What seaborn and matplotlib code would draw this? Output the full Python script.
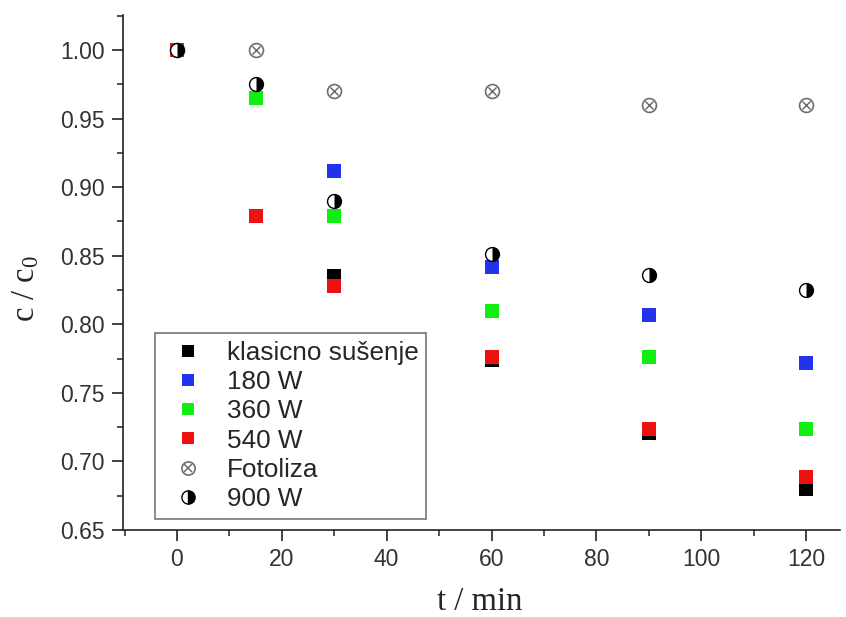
import numpy as np
import pandas as pd
import matplotlib
matplotlib.use("Agg")
import matplotlib.pyplot as plt
from matplotlib.path import Path
from matplotlib.lines import Line2D
from matplotlib.ticker import MultipleLocator, FormatStrFormatter
import seaborn as sns

# ---- data ----
t = [0, 15, 30, 60, 90, 120]
klasicno = [1.00, np.nan, 0.835, 0.774, 0.721, 0.680]
w180 = [1.00, np.nan, 0.912, 0.842, 0.807, 0.772]
w360 = [1.00, 0.965, 0.879, 0.810, 0.776, 0.724]
w540 = [1.00, 0.879, 0.828, 0.776, 0.724, 0.689]
fotoliza = [1.00, 1.00, 0.970, 0.970, 0.960, 0.960]
w900 = [1.00, 0.975, 0.890, 0.851, 0.836, 0.825]

labels = ["klasicno sušenje", "180 W", "360 W", "540 W", "Fotoliza", "900 W"]
sq_colors = ["#000000", "#2233ee", "#11ee11", "#ee1111"]
gray = "#6e6e6e"

sns.set_style("ticks")
plt.rcParams["font.family"] = ["Liberation Sans", "DejaVu Sans"]
plt.rcParams["mathtext.fontset"] = "custom"
plt.rcParams["mathtext.rm"] = "Liberation Serif"
plt.rcParams["mathtext.it"] = "Liberation Serif"

fig = plt.figure(figsize=(8.46, 6.17), dpi=100)
ax = fig.add_axes([0.1454, 0.141, 0.8476, 0.8347])

SQ = 90
CI = 100

def dfm(vals):
    d = pd.DataFrame({"t": t, "v": vals})
    return d.dropna()

# squares
for vals, col in zip([klasicno, w180, w360, w540], sq_colors):
    d = dfm(vals)
    sns.scatterplot(data=d, x="t", y="v", ax=ax, marker="s", s=SQ,
                    color=col, linewidth=0, zorder=3)

# Fotoliza: circle with cross
d = dfm(fotoliza)
sns.scatterplot(data=d, x="t", y="v", ax=ax, marker="o", s=CI,
                facecolor="white", edgecolor=gray, linewidth=1.2, zorder=4)
sns.scatterplot(data=d, x="t", y="v", ax=ax, marker="x", s=34,
                color=gray, linewidth=1.1, zorder=5)

# 900 W: half-filled circle
half = Path.wedge(-90, 90)
d = dfm(w900)
sns.scatterplot(data=d, x="t", y="v", ax=ax, marker="o", s=CI,
                facecolor="white", edgecolor="black", linewidth=1.0, zorder=6)
sns.scatterplot(data=d, x="t", y="v", ax=ax, marker=half, s=CI,
                color="black", linewidth=0, zorder=7)

ax.set_xlim(-10.3, 126.5)
ax.set_ylim(0.65, 1.0255)
ax.xaxis.set_major_locator(MultipleLocator(20))
ax.xaxis.set_minor_locator(MultipleLocator(10))
ax.yaxis.set_major_locator(MultipleLocator(0.05))
ax.yaxis.set_minor_locator(MultipleLocator(0.025))
ax.yaxis.set_major_formatter(FormatStrFormatter("%.2f"))

for s in ["top", "right"]:
    ax.spines[s].set_visible(False)
for s in ["left", "bottom"]:
    ax.spines[s].set_linewidth(1.2)
    ax.spines[s].set_color("#222222")
ax.tick_params(which="major", direction="out", length=8, width=1.2, pad=5,
               labelsize=16.5, colors="#222222", labelcolor="#333333")
ax.tick_params(which="minor", direction="out", length=4.5, width=1.1, colors="#222222")

ax.set_xlabel("t / min", family=["Liberation Serif"], fontsize=23.5)
ax.set_ylabel("c / c$\\mathregular{_0}$", family=["Liberation Serif"], fontsize=23.5)
ax.xaxis.set_label_coords(0.498, -0.11)
ax.yaxis.set_label_coords(-0.114, 0.47)

handles = []
for col in sq_colors:
    handles.append(Line2D([], [], ls="", marker="s", markersize=9,
                          markerfacecolor=col, markeredgewidth=0))
h_c = Line2D([], [], ls="", marker="o", markersize=9.5, markerfacecolor="white",
             markeredgecolor=gray, markeredgewidth=1.2)
h_x = Line2D([], [], ls="", marker="x", markersize=5.8, markeredgecolor=gray,
             markeredgewidth=1.1)
handles.append((h_c, h_x))
handles.append(Line2D([], [], ls="", marker="o", markersize=9.5, fillstyle="right",
                      markerfacecolor="black", markerfacecoloralt="white",
                      markeredgecolor="black", markeredgewidth=1.0))

leg = ax.legend(handles, labels, loc="upper left", bbox_to_anchor=(0.0446, 0.3825),
                borderaxespad=0, fontsize=18.8, frameon=True, fancybox=False,
                framealpha=1, edgecolor="#777777", handlelength=1.9,
                handletextpad=0.55, labelspacing=0.2, borderpad=0.3)
leg.get_frame().set_linewidth(1.2)

fig.savefig("out.png", dpi=100)
